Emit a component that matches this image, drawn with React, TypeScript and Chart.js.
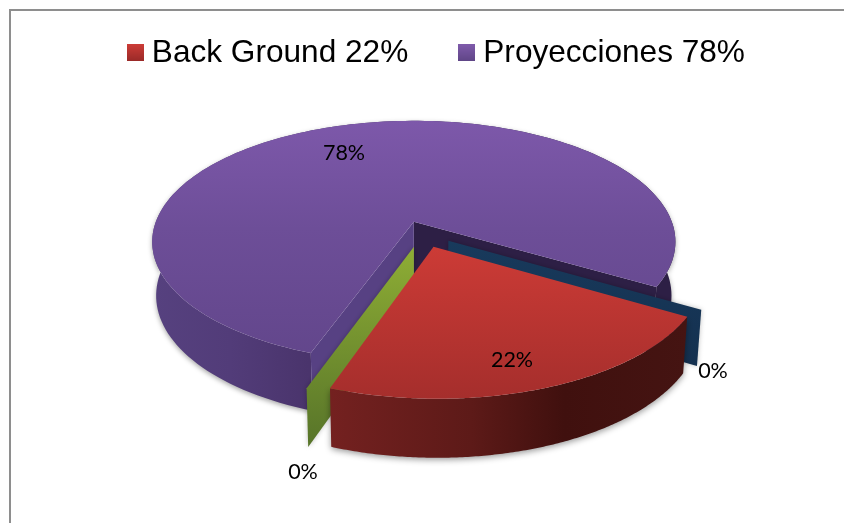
import React, { useEffect, useRef } from "react";
import { Chart, registerables } from "chart.js";

Chart.register(...registerables);

const sliceNames = ["Back Ground", "Serie 2", "Proyecciones", "Serie 4"];
const sliceValues = [22, 0, 78, 0];
const sliceLabels = ["22%", "0%", "78%", "0%"];
const legendEntries = ["Back Ground 22%", "Proyecciones 78%"];
const legendSliceIndex = [0, 2];

const W = 844;
const H = 523;
const RADIUS = 200;
const EXPLODE = 21.7;

// 3-D view of the pie: a perspective map of the ground plane
const P = 0.165;
const SX = 258;
const SY = 117.7;
const SHIFT_U = 0.0355;
const SHIFT_V = 0.1025;
const K0 = 1 / (1 - P * SHIFT_V);
const X0 = SX * SHIFT_U * K0;
const Y0 = SY * SHIFT_V * K0;

const labelSpots = [
  { x: 512, y: 360 },
  { x: 303, y: 472 },
  { x: 344, y: 153 },
  { x: 713, y: 371 },
];

type Pt = { x: number; y: number };

function gradV(ctx: CanvasRenderingContext2D, y0: number, y1: number, stops: [number, string][]) {
  const g = ctx.createLinearGradient(0, y0, 0, y1);
  stops.forEach(([o, c]) => g.addColorStop(o, c));
  return g;
}
function gradH(ctx: CanvasRenderingContext2D, x0: number, x1: number, stops: [number, string][]) {
  const g = ctx.createLinearGradient(x0, 0, x1, 0);
  stops.forEach(([o, c]) => g.addColorStop(o, c));
  return g;
}

function swatch(top: string, bottom: string) {
  const c = document.createElement("canvas");
  c.width = 17;
  c.height = 17;
  const x = c.getContext("2d")!;
  x.fillStyle = gradV(x, 0, 17, [[0, top], [1, bottom]]);
  x.fillRect(0, 0, 17, 17);
  return c;
}

const pie3d = {
  id: "pie3d",
  afterLayout(chart: any) {
    const l = chart.legend;
    l.top -= 21.15;
    l.bottom -= 21.15;
    l.left += 16.5;
    l.right += 16.5;
  },
  beforeDraw(chart: any) {
    const c = chart.ctx as CanvasRenderingContext2D;
    c.save();
    c.fillStyle = "#ffffff";
    c.fillRect(0, 0, W, H);
    c.fillStyle = "#8e8e8e";
    c.fillRect(9, 9, W - 9, 2);
    c.fillRect(9, 9, 2, H - 9);
    c.restore();
  },
  beforeDatasetDraw(chart: any) {
    const ctx = chart.ctx as CanvasRenderingContext2D;
    const arcs = chart.getDatasetMeta(0).data as any[];
    const el0 = arcs[0];
    const cx = el0.x;
    const cy = el0.y;
    const R = el0.outerRadius;

    const top = (u: number, v: number): Pt => {
      const a = u + SHIFT_U;
      const b = v + SHIFT_V;
      const k = 1 / (1 - P * b);
      return { x: cx - X0 + SX * a * k, y: cy - Y0 + SY * b * k };
    };
    const bot = (u: number, v: number): Pt => {
      const p = top(u, v);
      const b = v + SHIFT_V;
      return { x: cx - X0 + (p.x - cx + X0) * 0.985, y: p.y + 53 + 5 * b };
    };
    const apex = (el: any) => {
      const mid = (el.startAngle + el.endAngle) / 2;
      const o = el.options.offset / R;
      return { u: o * Math.cos(mid), v: o * Math.sin(mid) };
    };
    const rim = (el: any, ang: number) => {
      const a = apex(el);
      return { u: a.u + (el.outerRadius / R) * Math.cos(ang), v: a.v + (el.outerRadius / R) * Math.sin(ang) };
    };
    const poly = (pts: Pt[], fill: string | CanvasGradient) => {
      ctx.beginPath();
      pts.forEach((p, i) => (i ? ctx.lineTo(p.x, p.y) : ctx.moveTo(p.x, p.y)));
      ctx.closePath();
      ctx.fillStyle = fill;
      ctx.fill();
    };
    const arcPts = (el: any, map: (u: number, v: number) => Pt, a0 = el.startAngle, a1 = el.endAngle) => {
      const out: Pt[] = [];
      const n = 160;
      for (let i = 0; i <= n; i++) {
        const r = rim(el, a0 + ((a1 - a0) * i) / n);
        out.push(map(r.u, r.v));
      }
      return out;
    };
    const outerWall = (el: any, fill: string | CanvasGradient) => {
      poly([...arcPts(el, top), ...arcPts(el, bot).reverse()], fill);
    };
    const cutWall = (el: any, ang: number, fill: string | CanvasGradient) => {
      const a = apex(el);
      const r = rim(el, ang);
      poly([top(a.u, a.v), top(r.u, r.v), bot(r.u, r.v), bot(a.u, a.v)], fill);
    };
    const topFace = (el: any, fill: string | CanvasGradient) => {
      const a = apex(el);
      poly([top(a.u, a.v), ...arcPts(el, top)], fill);
    };

    const [red, green, purple, navy] = arcs;
    ctx.save();

    // Purple slice
    ctx.save();
    ctx.shadowColor = "rgba(0,0,0,0.35)";
    ctx.shadowBlur = 5;
    ctx.shadowOffsetY = 2;
    outerWall(
      purple,
      gradH(ctx, 152, 675, [
        [0, "#56417f"],
        [0.15, "#523c79"],
        [0.3, "#4a346c"],
        [0.6, "#3a2a5a"],
        [0.95, "#2d1f45"],
        [1, "#2d1f45"],
      ])
    );
    ctx.restore();
    cutWall(purple, navy.startAngle, "#2d1f45");
    cutWall(purple, green.startAngle, "#574183");
    topFace(purple, gradV(ctx, 121, 360, [[0, "#7d58aa"], [0.45, "#6d4e98"], [1, "#62468b"]]));

    // Zero-size slices: just their cut walls
    ctx.save();
    ctx.shadowColor = "rgba(0,0,0,0.25)";
    ctx.shadowBlur = 5;
    cutWall(navy, navy.startAngle, gradV(ctx, 240, 365, [[0, "#183a5c"], [1, "#14304f"]]));
    cutWall(green, green.startAngle, gradV(ctx, 245, 447, [[0, "#8fae35"], [1, "#577429"]]));
    ctx.restore();

    // Red slice
    ctx.save();
    ctx.shadowColor = "rgba(0,0,0,0.4)";
    ctx.shadowBlur = 6;
    ctx.shadowOffsetY = 2;
    outerWall(
      red,
      gradH(ctx, 328, 686, [
        [0, "#742120"],
        [0.4, "#5d1a18"],
        [0.66, "#40100e"],
        [1, "#451412"],
      ])
    );
    ctx.restore();
    topFace(red, gradV(ctx, 247, 400, [[0, "#cc3b36"], [1, "#a52e2c"]]));

    // Percentage labels
    ctx.fillStyle = "#000000";
    ctx.font = "21.5px Lato";
    ctx.textAlign = "center";
    ctx.textBaseline = "middle";
    sliceLabels.forEach((t, i) => ctx.fillText(t, labelSpots[i].x, labelSpots[i].y));
    ctx.restore();
    return false;
  },
};

export default function App() {
  const ref = useRef<HTMLCanvasElement>(null);
  useEffect(() => {
    const chart = new Chart(ref.current!, {
      type: "pie",
      data: {
        labels: sliceNames,
        datasets: [
          {
            data: sliceValues,
            backgroundColor: ["#c0392f", "#8aa832", "#6f4f9c", "#1f4263"],
            borderWidth: 0,
            offset: EXPLODE,
          },
        ],
      },
      plugins: [pie3d as any],
      options: {
        responsive: false,
        animation: false,
        rotation: 120.5,
        radius: RADIUS,
        layout: { padding: { left: 3, right: 0, top: 0, bottom: 154.7 } },
        plugins: {
          tooltip: { enabled: false },
          legend: {
            display: true,
            position: "top",
            labels: {
              usePointStyle: true,
              pointStyleWidth: 1,
              boxHeight: 17,
              padding: 58.25,
              color: "#000000",
              font: { family: "'Liberation Sans'", size: 31.6 },
              generateLabels: () =>
                legendEntries.map((text, i) => ({
                  text,
                  index: legendSliceIndex[i],
                  datasetIndex: 0,
                  hidden: false,
                  lineWidth: 0,
                  fontColor: "#000000",
                  strokeStyle: "transparent",
                  pointStyle:
                    i === 0 ? swatch("#cc3c37", "#992a28") : swatch("#7f5bab", "#5f4586"),
                })),
            },
          },
        },
      },
    } as any);
    return () => chart.destroy();
  }, []);
  return (
    <div style={{ position: "absolute", left: 0, top: 0, width: W, height: H, background: "#fff" }}>
      <canvas ref={ref} width={W} height={H} style={{ display: "block" }} />
    </div>
  );
}
